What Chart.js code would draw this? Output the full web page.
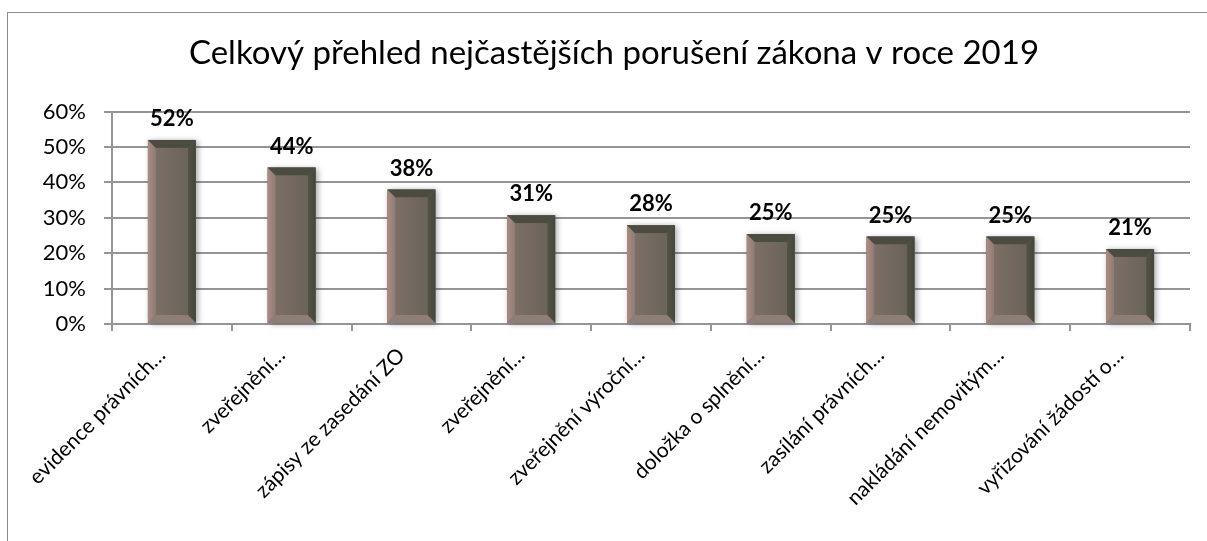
<!DOCTYPE html>
<html>
<head>
<meta charset="utf-8">
<script src="https://cdn.jsdelivr.net/npm/chart.js@4"></script>
<style>
    html, body { margin: 0; padding: 0; background: #fff; overflow: hidden; }
    #ram { position: absolute; left: 7px; top: 12px; width: 1300px; height: 600px; border-left: 1px solid #8c8c8c; border-top: 1px solid #8c8c8c; }
    #wrap { position: absolute; left: 0; top: 0; width: 1207px; height: 541px; }
</style>
</head>
<body>
<div id="ram"></div>
<div id="wrap"><canvas id="graf" width="1207" height="541"></canvas></div>
<script>
const kategorie = [
    "evidence právních…",
    "zveřejnění…",
    "zápisy ze zasedání ZO",
    "zveřejnění…",
    "zveřejnění výroční…",
    "doložka o splnění…",
    "zasílání právních…",
    "nakládání nemovitým…",
    "vyřizování žádostí o…"
];
const hodnoty = [52, 44.2, 38, 30.7, 27.9, 25.4, 24.7, 24.7, 21.2]; // v procentech
const popisky = ["52%", "44%", "38%", "31%", "28%", "25%", "25%", "25%", "21%"];
const osaY = [0, 10, 20, 30, 40, 50, 60];

const pismo = "Lato, 'Open Sans', sans-serif";

// zkosené hrany sloupců (efekt "bevel") + popisky nad sloupci
const zkoseni = {
    id: "zkoseni",
    beforeDatasetsDraw(chart) {
        const ctx = chart.ctx;
        chart.getDatasetMeta(0).data.forEach(bar => {
            const l = bar.x - bar.width / 2, t = bar.y;
            ctx.save();
            ctx.shadowColor = "rgba(0,0,0,0.35)";
            ctx.shadowBlur = 6;
            ctx.shadowOffsetX = 2;
            ctx.shadowOffsetY = 1;
            ctx.fillStyle = "#6f665c";
            ctx.fillRect(l, t, bar.width, bar.base - t);
            ctx.restore();
        });
    },
    afterDatasetsDraw(chart) {
        const ctx = chart.ctx;
        const s = 8;
        const poly = (body, barva) => {
            ctx.beginPath();
            ctx.moveTo(body[0][0], body[0][1]);
            body.slice(1).forEach(p => ctx.lineTo(p[0], p[1]));
            ctx.closePath();
            ctx.fillStyle = barva;
            ctx.fill();
        };
        chart.getDatasetMeta(0).data.forEach((bar, i) => {
            const l = bar.x - bar.width / 2, r = bar.x + bar.width / 2, t = bar.y, b = bar.base;

            let g = ctx.createLinearGradient(l, 0, l + s, 0);
            g.addColorStop(0, "#ab8c84");
            g.addColorStop(1, "#8e7b73");
            poly([[l, t], [l + s, t + s], [l + s, b - s], [l, b]], g);

            g = ctx.createLinearGradient(r - s, 0, r, 0);
            g.addColorStop(0, "#545246");
            g.addColorStop(1, "#45473a");
            poly([[r, t], [r, b], [r - s, b - s], [r - s, t + s]], g);

            poly([[l, t], [r, t], [r - s, t + s], [l + s, t + s]], "#4c4b42");
            poly([[l, b], [l + s, b - s], [r - s, b - s], [r, b]], "#8f7e76");

            g = ctx.createLinearGradient(l + s, 0, r - s, 0);
            g.addColorStop(0, "#7c6e66");
            g.addColorStop(1, "#6a645a");
            ctx.fillStyle = g;
            ctx.fillRect(l + s, t + s, bar.width - 2 * s, b - t - 2 * s);

            ctx.save();
            ctx.font = "bold 22px " + pismo;
            ctx.fillStyle = "#000";
            ctx.textAlign = "center";
            ctx.textBaseline = "bottom";
            ctx.fillText(popisky[i], bar.x, t - 10);
            ctx.restore();
        });
    }
};

const graf = new Chart(document.getElementById("graf"), {
    type: "bar",
    data: {
        labels: kategorie,
        datasets: [{
            label: "Porušení",
            data: hodnoty,
            backgroundColor: "#74695f",
            borderWidth: 0,
            categoryPercentage: 0.8,
            barPercentage: 0.5
        }]
    },
    options: {
        responsive: false,
        animation: false,
        layout: { padding: { left: 38, right: 17, top: 0, bottom: 0 } },
        plugins: {
            legend: { display: false },
            tooltip: { enabled: false },
            title: {
                display: true,
                text: "Celkový přehled nejčastějších porušení zákona v roce 2019",
                color: "#000",
                font: { family: pismo, size: 33, weight: "normal" },
                padding: { top: 34, bottom: 38 }
            }
        },
        scales: {
            y: {
                min: osaY[0],
                max: osaY[osaY.length - 1],
                afterFit: s => { s.width = 74; },
                afterBuildTicks: s => { s.ticks = osaY.map(v => ({ value: v })); },
                ticks: {
                    color: "#000",
                    font: { family: pismo, size: 22 },
                    padding: 18,
                    callback: v => v + "%"
                },
                grid: { color: "#959595", lineWidth: 2, tickLength: 8 },
                border: { color: "#959595", width: 2 }
            },
            x: {
                afterFit: s => { s.height = 217; },
                ticks: {
                    color: "#000",
                    font: { family: pismo, size: 21 },
                    minRotation: 45,
                    maxRotation: 45,
                    autoSkip: false,
                    padding: 12,
                    labelOffset: -10
                },
                grid: { drawOnChartArea: false, color: "#959595", lineWidth: 2, tickLength: 7 },
                border: { color: "#959595", width: 2 }
            }
        }
    },
    plugins: [zkoseni]
});
</script>
</body>
</html>
